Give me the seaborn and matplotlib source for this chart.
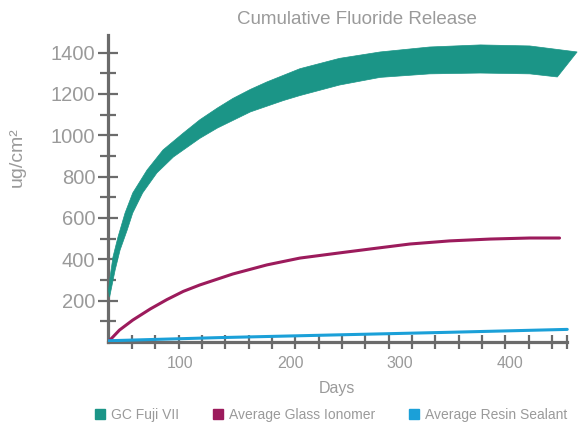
import numpy as np
import matplotlib
matplotlib.use("Agg")
import matplotlib.pyplot as plt
from matplotlib.lines import Line2D
import seaborn as sns

# Data (days, ug/cm2)
fuji_upper_days = [35, 36.4, 39, 43.6, 50, 57, 70, 84.5, 103, 118, 134, 148, 164, 179,
                   209, 245, 282, 327, 373, 418, 461]
fuji_upper_vals = [250, 314, 411, 508, 624, 721, 832, 929, 1011, 1075, 1132, 1178, 1222,
                   1258, 1322, 1372, 1403, 1427, 1437, 1432, 1403]
fuji_lower_days = [36, 41, 45.5, 52, 57, 66, 79, 94, 118, 134, 164, 194, 209, 245, 282,
                   327, 373, 418, 443]
fuji_lower_vals = [218, 348, 445, 542, 624, 721, 818, 895, 985, 1035, 1113, 1168, 1192,
                   1243, 1280, 1297, 1301, 1297, 1282]

glass_days = [34.5, 38, 45, 57, 73, 88, 103, 118, 148, 179, 209, 245, 273, 309, 345, 382,
              418, 445]
glass_vals = [0, 19, 58, 106, 160, 205, 245, 276, 329, 373, 406, 431, 450, 474, 489, 498,
              503, 503]

resin_days = [34.5, 134, 239, 345, 452]
resin_vals = [6, 21, 34, 47, 61]

series_labels = ["GC Fuji VII", "Average Glass Ionomer", "Average Resin Sealant"]
series_colors = ["#1b9587", "#9c1b5c", "#1ba0d8"]

y_tick_labels = [200, 400, 600, 800, 1000, 1200, 1400]
x_tick_labels = [100, 200, 300, 400]

AXIS_GRAY = "#6b6b6b"
TEXT_GRAY = "#9a9a9a"

sns.set_style("white")
plt.rcParams["font.family"] = ["Liberation Sans", "DejaVu Sans"]

fig = plt.figure(figsize=(5.79, 4.28), dpi=100)
ax = fig.add_axes([108 / 579, 86 / 428, 471 / 579, 307 / 428])

# Fuji VII band
band_x = np.concatenate([fuji_upper_days, fuji_lower_days[::-1]])
band_y = np.concatenate([fuji_upper_vals, fuji_lower_vals[::-1]])
ax.fill(band_x, band_y, color=series_colors[0], lw=0.5, ec=series_colors[0], zorder=2)

sns.lineplot(x=glass_days, y=glass_vals, color=series_colors[1], lw=2.2, ax=ax, zorder=3)
sns.lineplot(x=resin_days, y=resin_vals, color=series_colors[2], lw=2.2, ax=ax, zorder=3)

ax.set_xlim(34.5, 462.7)
ax.set_ylim(0, 1485)

for side in ["top", "right"]:
    ax.spines[side].set_visible(False)
for side in ["left", "bottom"]:
    ax.spines[side].set_color(AXIS_GRAY)
    ax.spines[side].set_linewidth(2.3)
    ax.spines[side].set_zorder(1)
ax.spines["bottom"].set_bounds(34.5, 452)

ax.tick_params(which="both", left=True, bottom=True)

# y axis ticks: labelled every 200, marks every 100
ax.set_yticks(y_tick_labels)
ax.set_yticklabels([str(v) for v in y_tick_labels])
ax.set_yticks(np.arange(100, 1500, 200), minor=True)
ax.tick_params(axis="y", which="major", direction="inout", length=14, width=1.6,
               color=AXIS_GRAY, labelcolor=TEXT_GRAY, labelsize=14.5, pad=2)
ax.tick_params(axis="y", which="minor", direction="inout", length=12, width=1.6,
               color=AXIS_GRAY)

# x axis: labels without marks, regular marks on their own
ax.set_xticks(x_tick_labels)
ax.set_xticklabels([str(v) for v in x_tick_labels])
ax.set_xticks(np.append(np.arange(56.4, 452, 21.2), 452), minor=True)
ax.tick_params(axis="x", which="major", length=0, labelcolor=TEXT_GRAY,
               labelsize=11.5, pad=10)
ax.tick_params(axis="x", which="minor", direction="inout", length=10, width=1.6,
               color=AXIS_GRAY)

fig.text(357 / 579, 1 - 20 / 428, "Cumulative Fluoride Release", ha="center",
         va="center", fontsize=13.5, color=TEXT_GRAY)
fig.text(337 / 579, 1 - 388 / 428, "Days", ha="center", va="center",
         fontsize=11.5, color=TEXT_GRAY)
fig.text(17 / 579, 1 - 157 / 428, "ug/cm²", ha="center", va="center",
         rotation=90, fontsize=14, color=TEXT_GRAY)

handles = [Line2D([], [], marker="s", ls="", color=c, markersize=7) for c in series_colors]
leg = fig.legend(handles, series_labels, loc="center", bbox_to_anchor=(331 / 579, 1 - 415 / 428),
                 ncol=3, frameon=False, fontsize=10, handlelength=0.8,
                 handletextpad=0.4, columnspacing=2.4)
for t in leg.get_texts():
    t.set_color(TEXT_GRAY)

fig.savefig("out.png", dpi=100)
